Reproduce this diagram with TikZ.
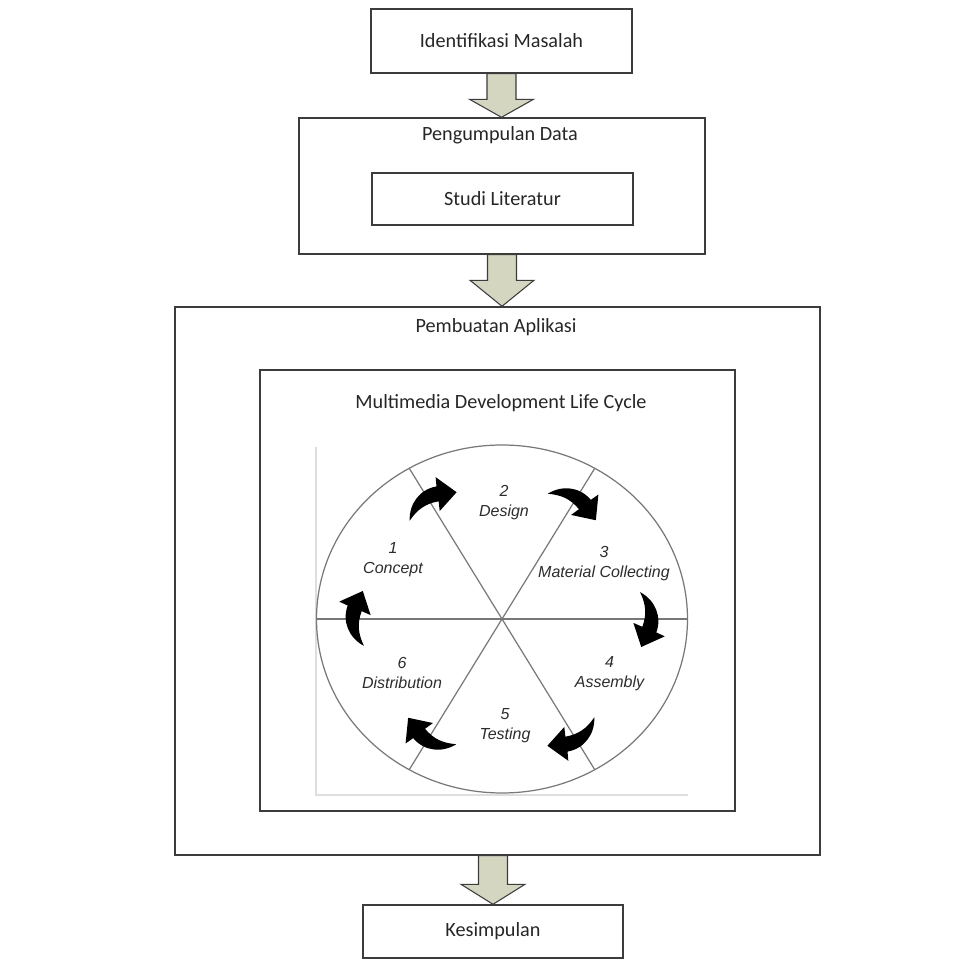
\documentclass[tikz,border=0pt]{standalone}
\usepackage{fontspec}
\setmainfont{Carlito}
\newfontfamily\cyclefont{Liberation Sans}
\usetikzlibrary{calc}
\definecolor{linegray}{RGB}{60,60,60}
\definecolor{arrowfill}{RGB}{212,214,192}
\definecolor{circgray}{RGB}{120,120,120}
\definecolor{labelgray}{RGB}{45,45,45}
\definecolor{framegray}{RGB}{222,222,222}

\begin{document}
\begin{tikzpicture}[
    box/.style={rectangle, draw=linegray, line width=0.8pt, inner sep=0pt},
    title/.style={font=\fontsize{11.5}{13}\selectfont, text=black!85},
    phase/.style={font=\cyclefont\itshape\fontsize{9.1}{11.3}\selectfont, text=labelgray, align=center},
    fatarrow/.style={draw=linegray, fill=arrowfill, line width=0.6pt,
        to path={let \p1=(\tikztostart), \p2=(\tikztotarget) in
            (\x1-0.29cm,\y1) -- (\x1-0.29cm,\y2+#1) -- (\x1-0.64cm,\y2+#1) -- (\x1,\y2)
            -- (\x1+0.64cm,\y2+#1) -- (\x1+0.29cm,\y2+#1) -- (\x1+0.29cm,\y1) -- cycle}},
    cycarrow/.pic={
        \fill[black] (-0.48,-0.15) to[out=62,in=160] (0.24,0.14) -- (0.31,0.29)
            -- (0.50,-0.13) -- (0.07,-0.27) -- (0.14,-0.11) to[out=160,in=25] cycle;
    }
]
\useasboundingbox (0,0) rectangle (19.22,19.48);

% Tahap atas
\node[box, title, minimum width=5.22cm, minimum height=1.28cm] (ident) at (10.03,18.66) {Identifikasi Masalah};

\node[box, minimum width=8.12cm, minimum height=2.72cm] (pengum) at (10.04,15.76) {};
\node[title] (pengumtitle) at (10.0,16.78) {Pengumpulan Data};
\node[box, title, minimum width=5.22cm, minimum height=1.04cm] (studi) at (10.05,15.50) {Studi Literatur};

% Pembuatan aplikasi
\node[box, minimum width=12.9cm, minimum height=10.96cm] (pemb) at (9.95,7.86) {};
\node[title] (pembtitle) at (9.92,12.94) {Pembuatan Aplikasi};
\node[box, minimum width=9.5cm, minimum height=8.82cm] (mdlc) at (9.95,7.67) {};
\node[title] (mdlctitle) at (10.02,11.42) {Multimedia Development Life Cycle};

% Siklus MDLC
\coordinate (cyc) at (10.04,7.10);
\draw[framegray, line width=0.6pt] (6.32,10.54) -- (6.32,3.58) -- (13.76,3.58);
\draw[circgray, line width=0.7pt] (cyc) ellipse [x radius=3.71, y radius=3.48];
\foreach \a in {0,60,120}
    \draw[circgray, line width=0.7pt] ($(cyc)+(\a:3.71 and 3.48)$) -- ($(cyc)+(\a+180:3.71 and 3.48)$);

\node[phase] (concept) at (7.86,8.28) {1\\Concept};
\node[phase] (design) at (10.08,9.42) {2\\Design};
\node[phase] (material) at (12.08,8.21) {3\\Material Collecting};
\node[phase] (assembly) at (12.19,6.00) {4\\Assembly};
\node[phase] (testing) at (10.10,4.97) {5\\Testing};
\node[phase] (distrib) at (8.04,6.02) {6\\Distribution};

\foreach \a in {120,60,0,-60,-120,180}
    \pic[rotate=\a-90, scale=1.12] at ($(cyc)+(\a:2.93 and 2.75)$) {cycarrow};

% Kesimpulan
\node[box, title, minimum width=5.2cm, minimum height=1.06cm] (kesim) at (9.86,0.85) {Kesimpulan};

% Panah
\draw[fatarrow=0.36cm] (ident.south) to (pengum.north);
\draw[fatarrow=0.52cm] (pengum.south) to (pengum.south |- pemb.north);
\draw[fatarrow=0.40cm] (pemb.south -| kesim.north) to (kesim.north);

\end{tikzpicture}
\end{document}
